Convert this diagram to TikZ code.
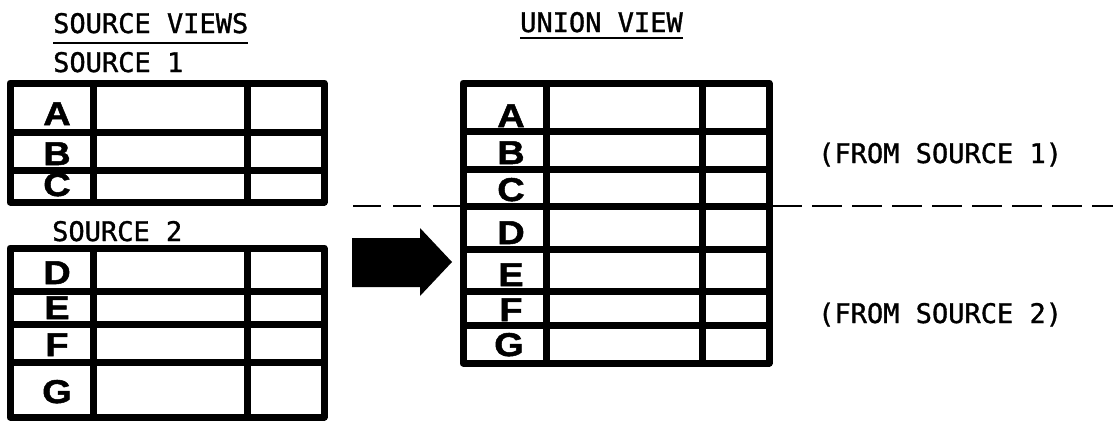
\documentclass[tikz,border=0pt]{standalone}
\usepackage{fontspec}
\newfontfamily\lblfont[FakeBold=1.2]{DejaVu Sans Mono}
\newfontfamily\keyfont[FakeStretch=1.15,FakeBold=1.5]{Liberation Sans}
\begin{document}
\begin{tikzpicture}[x=1pt,y=-1pt,
  grid/.style={line width=7pt,line join=round},
  title/.style={anchor=base west,inner sep=0pt,font=\lblfont\fontsize{27}{30}\selectfont},
  key/.style={anchor=base,inner sep=0pt,font=\keyfont\bfseries\fontsize{33}{33}\selectfont}]
  \useasboundingbox (0,0) rectangle (1113,421);
  \node [title] (srcviews) at (53,33) {SOURCE VIEWS};
  \draw [line width=2.5pt] ([yshift=-10pt]srcviews.base west) -- ([yshift=-10pt]srcviews.base east);
  \node [title] (unionview) at (520,32) {UNION VIEW};
  \draw [line width=2.5pt] ([yshift=-6pt]unionview.base west) -- ([yshift=-6pt]unionview.base east);
  \node [title] (src1) at (53,72) {SOURCE 1};
  \node [title] (src2) at (52,241) {SOURCE 2};
  \draw [grid] (10,83) rectangle (324,202);
  \draw [grid] (93,83) -- (93,202);
  \draw [grid] (247,83) -- (247,202);
  \draw [grid] (10,132) -- (324,132);
  \draw [grid] (10,170) -- (324,170);
  \node [key] (s1a) at (57,125) {A};
  \node [key] (s1b) at (57,165) {B};
  \node [key] (s1c) at (57,196) {C};
  \draw [grid] (10,248) rectangle (324,417);
  \draw [grid] (93,248) -- (93,417);
  \draw [grid] (247,248) -- (247,417);
  \draw [grid] (10,291) -- (324,291);
  \draw [grid] (10,324) -- (324,324);
  \draw [grid] (10,362) -- (324,362);
  \node [key] (s2d) at (57,284) {D};
  \node [key] (s2e) at (57,319) {E};
  \node [key] (s2f) at (57,356) {F};
  \node [key] (s2g) at (57,403) {G};
  \fill (352,238) -- (420,238) -- (420,228) -- (452,262) -- (420,296) -- (420,287) -- (352,287) -- cycle;
  \draw [grid] (463,83) rectangle (769,363);
  \draw [grid] (546,83) -- (546,363);
  \draw [grid] (702,83) -- (702,363);
  \draw [grid] (463,131) -- (769,131);
  \draw [grid] (463,169) -- (769,169);
  \draw [grid] (463,206) -- (769,206);
  \draw [grid] (463,249) -- (769,249);
  \draw [grid] (463,291) -- (769,291);
  \draw [grid] (463,325) -- (769,325);
  \node [key] (ua) at (511,127) {A};
  \node [key] (ub) at (511,164) {B};
  \node [key] (uc) at (511,201) {C};
  \node [key] (ud) at (511,244) {D};
  \node [key] (ue) at (511,286) {E};
  \node [key] (uf) at (511,321) {F};
  \node [key] (ug) at (509,356) {G};
  \draw [line width=2.5pt,dash pattern=on 28pt off 12pt] (353,206) -- (460,206);
  \draw [line width=2.5pt,dash pattern=on 30pt off 10pt] (772,206) -- (1113,206);
  \node [title] (from1) at (818,163) {(FROM SOURCE 1)};
  \node [title] (from2) at (818,323) {(FROM SOURCE 2)};
\end{tikzpicture}
\end{document}
